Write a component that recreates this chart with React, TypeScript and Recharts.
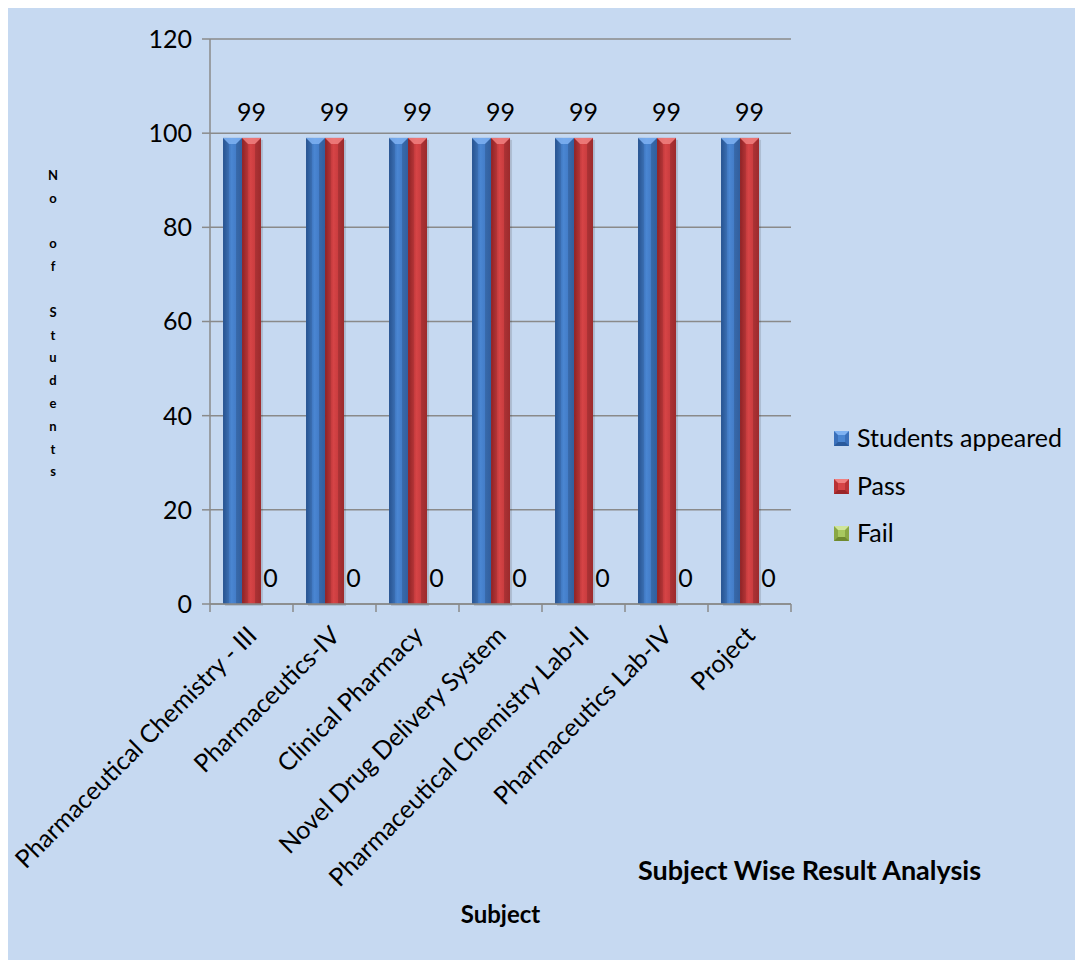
import React from "react";
import { BarChart, Bar, XAxis, YAxis, CartesianGrid, LabelList, Label } from "recharts";

const subjects = [
  "Pharmaceutical Chemistry - III",
  "Pharmaceutics-IV",
  "Clinical Pharmacy",
  "Novel Drug Delivery System",
  "Pharmaceutical Chemistry Lab-II",
  "Pharmaceutics Lab-IV",
  "Project",
];
const appeared = [99, 99, 99, 99, 99, 99, 99];
const pass = [99, 99, 99, 99, 99, 99, 99];
const fail = [0, 0, 0, 0, 0, 0, 0];
const yTicks = [0, 20, 40, 60, 80, 100, 120];
const seriesNames = ["Students appeared", "Pass", "Fail"];
const yTitle = "No of Students";
const chartTitle = "Subject Wise Result Analysis";
const xTitle = "Subject";

const data = subjects.map((s, i) => ({
  subject: s,
  appeared: appeared[i],
  pass: pass[i],
  fail: fail[i],
}));

const W = 1067;
const H = 952;
const M = { top: 31, right: 284, left: 0, bottom: 0 };
const YW = 202;
const XH = 356;
const PLOT_W = W - M.right - YW;
const BAND = PLOT_W / subjects.length;
const FONT = "Lato, 'Open Sans', sans-serif";
const GRID = "#8a8a8a";

const palette = [
  { id: "gBlue", dark: "#2a5a9c", mid: "#4a86d2", light: "#3a70bb", bevel: "#7fb2f2" },
  { id: "gRed", dark: "#9a2528", mid: "#d64446", light: "#b93235", bevel: "#f08080" },
  { id: "gGreen", dark: "#6f8a30", mid: "#a8c860", light: "#8aa845", bevel: "#cfe59a" },
];

const makeShape = (p: any) => (props: any) => {
  const { x, y, width, height } = props;
  if (!height || height <= 0) return <g />;
  const b = Math.min(6, height);
  return (
    <g>
      <rect x={x + 2} y={y + 2} width={width} height={height} fill="#000" opacity={0.12} />
      <rect x={x} y={y} width={width} height={height} fill={`url(#${p.id})`} />
      <polygon
        points={`${x},${y} ${x + width},${y} ${x + width - b},${y + b} ${x + b},${y + b}`}
        fill={p.bevel}
        opacity={0.85}
      />
      <polygon points={`${x},${y} ${x + b},${y + b} ${x + b},${y + height} ${x},${y + height}`} fill="#000" opacity={0.08} />
      <polygon
        points={`${x + width},${y} ${x + width - b},${y + b} ${x + width - b},${y + height} ${x + width},${y + height}`}
        fill="#000"
        opacity={0.15}
      />
    </g>
  );
};

const XTick = (props: any) => {
  const { x, y, payload, index } = props;
  const axisY = y - 8;
  const lx = x - BAND / 2;
  const rx = x + BAND / 2;
  const ax = x + 7;
  const ay = axisY + 33;
  return (
    <g>
      <line x1={lx} y1={axisY} x2={lx} y2={axisY + 8} stroke={GRID} strokeWidth={1.5} />
      {index === subjects.length - 1 && (
        <line x1={rx} y1={axisY} x2={rx} y2={axisY + 8} stroke={GRID} strokeWidth={1.5} />
      )}
      <text
        x={ax}
        y={ay}
        textAnchor="end"
        transform={`rotate(-45, ${ax}, ${ay})`}
        fontFamily={FONT}
        fontSize={25}
        fill="#000"
      >
        {payload.value}
      </text>
    </g>
  );
};

const LegendMarker = ({ p, x, y }: any) => {
  const s = 15;
  const b = 4;
  return (
    <g>
      <rect x={x} y={y} width={s} height={s} fill={p.light} />
      <polygon points={`${x},${y} ${x + s},${y} ${x + s / 2},${y + s / 2}`} fill={p.bevel} />
      <polygon points={`${x},${y + s} ${x + s},${y + s} ${x + s / 2},${y + s / 2}`} fill={p.dark} />
      <rect x={x + b} y={y + b} width={s - 2 * b} height={s - 2 * b} fill={p.mid} />
    </g>
  );
};

export default function App() {
  const legendTop = [430, 478, 525];
  return (
    <div
      style={{
        position: "fixed",
        left: 8,
        top: 8,
        width: W,
        height: H,
        background: "#c6d9f1",
        fontFamily: FONT,
      }}
    >
      <BarChart
        width={W}
        height={H}
        data={data}
        margin={M}
        barCategoryGap="15.7%"
        barGap={0}
      >
        <defs>
          {palette.map((p) => (
            <linearGradient key={p.id} id={p.id} x1="0" y1="0" x2="1" y2="0">
              <stop offset="0%" stopColor={p.dark} />
              <stop offset="45%" stopColor={p.mid} />
              <stop offset="100%" stopColor={p.light} />
            </linearGradient>
          ))}
        </defs>
        <CartesianGrid vertical={false} stroke={GRID} strokeWidth={1.5} />
        <XAxis
          dataKey="subject"
          interval={0}
          height={XH}
          tickSize={8}
          tickMargin={0}
          tickLine={false}
          axisLine={{ stroke: GRID, strokeWidth: 1.5 }}
          tick={<XTick />}
        >
          <Label
            value={xTitle}
            position="insideBottom"
            offset={37}
            style={{ fontFamily: FONT, fontSize: 24, fontWeight: 700, fill: "#000" }}
          />
        </XAxis>
        <YAxis
          width={YW}
          domain={[0, 120]}
          ticks={yTicks}
          interval={0}
          tickSize={8}
          tickMargin={10}
          axisLine={{ stroke: GRID, strokeWidth: 1.5 }}
          tickLine={{ stroke: GRID, strokeWidth: 1.5 }}
          tick={{ fill: "#000", fontSize: 25, fontFamily: FONT }}
        />
        <Bar dataKey="appeared" name={seriesNames[0]} isAnimationActive={false} shape={makeShape(palette[0])} />
        <Bar dataKey="pass" name={seriesNames[1]} isAnimationActive={false} shape={makeShape(palette[1])}>
          <LabelList dataKey="pass" position="top" offset={17} style={{ fontFamily: FONT, fontSize: 25, fill: "#000" }} />
        </Bar>
        <Bar dataKey="fail" name={seriesNames[2]} isAnimationActive={false} shape={makeShape(palette[2])}>
          <LabelList dataKey="fail" position="top" offset={17} style={{ fontFamily: FONT, fontSize: 25, fill: "#000" }} />
        </Bar>
      </BarChart>
      <svg
        width={W}
        height={H}
        style={{ position: "absolute", left: 0, top: 0, pointerEvents: "none" }}
      >
        <text x={45} y={172} textAnchor="middle" fontFamily={FONT} fontSize={13} fontWeight={700} fill="#000">
          {yTitle.split("").map((ch, i) => (
            <tspan key={i} x={45} dy={i === 0 ? 0 : 22.8}>
              {ch === " " ? "\u00a0" : ch}
            </tspan>
          ))}
        </text>
        {seriesNames.map((n, i) => (
          <g key={n}>
            <LegendMarker p={palette[i]} x={826} y={legendTop[i] - 7} />
            <text x={849} y={legendTop[i] + 9} fontFamily={FONT} fontSize={25} fill="#000">
              {n}
            </text>
          </g>
        ))}
        <text x={630} y={872} fontFamily={FONT} fontSize={27} fontWeight={700} fill="#000">
          {chartTitle}
        </text>
      </svg>
    </div>
  );
}
